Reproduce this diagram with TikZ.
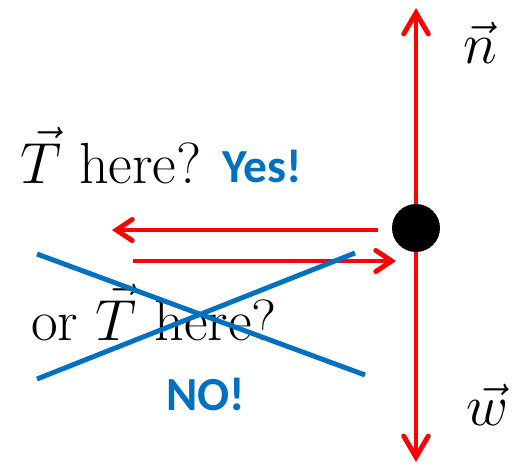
\RequirePackage{fix-cm}
\documentclass[tikz,border=0pt]{standalone}
\usepackage{fontspec}
\newfontfamily\calib{Carlito}
\usepackage{xcolor}
\usetikzlibrary{arrows.meta}
\definecolor{offblue}{RGB}{0,112,192}

\begin{document}
\begin{tikzpicture}[
  x=0.02cm, y=-0.02cm,
  force/.style={draw=red, line width=2.8pt, line cap=round,
    {Straight Barb[length=12pt, width=14pt, line cap=round]}-{Straight Barb[length=12pt, width=14pt, line cap=round]}},
  push/.style={draw=red, line width=2.8pt, -{Straight Barb[length=9pt, width=12pt, line cap=round]}},
  cross/.style={draw=offblue, line width=2.8pt},
  lbl/.style={anchor=base west, inner sep=0pt, font=\fontsize{33}{40}\selectfont},
  say/.style={anchor=base west, inner sep=0pt, text=offblue, font=\calib\bfseries\fontsize{27}{32}\selectfont}
]
  \useasboundingbox (0,0) rectangle (518,470);

  % the body and the two vertical forces
  \coordinate (top) at (416,8);
  \coordinate (bot) at (416,462);
  \draw[force] (top) -- (bot);
  \node[circle, fill=black, minimum size=0.96cm, inner sep=0pt] (obj) at (416,228) {};

  \node[lbl] (n) at (463,63) {$\vec{n}$};
  \node[lbl] (w) at (466,425) {$\vec{w}$};

  % the two candidate tensions
  \coordinate (la) at (378,230);
  \coordinate (lb) at (112,230);
  \coordinate (ra) at (133,261);
  \coordinate (rb) at (396,261);
  \draw[push] (la) -- (lb);
  \draw[push] (ra) -- (rb);

  \node[lbl] (q1) at (20,183) {$\vec{T}$ here?};
  \node[say] (yes) at (222,182) {Yes!};
  \node[lbl] (q2) at (31,340) {or $\vec{T}$ here?};
  \node[say] (no) at (166,410) {NO!};

  % crossing out
  \coordinate (c1) at (37,254);
  \coordinate (c2) at (365,375);
  \coordinate (c3) at (37,379);
  \coordinate (c4) at (355,253);
  \draw[cross] (c1) -- (c2);
  \draw[cross] (c3) -- (c4);
\end{tikzpicture}
\end{document}
